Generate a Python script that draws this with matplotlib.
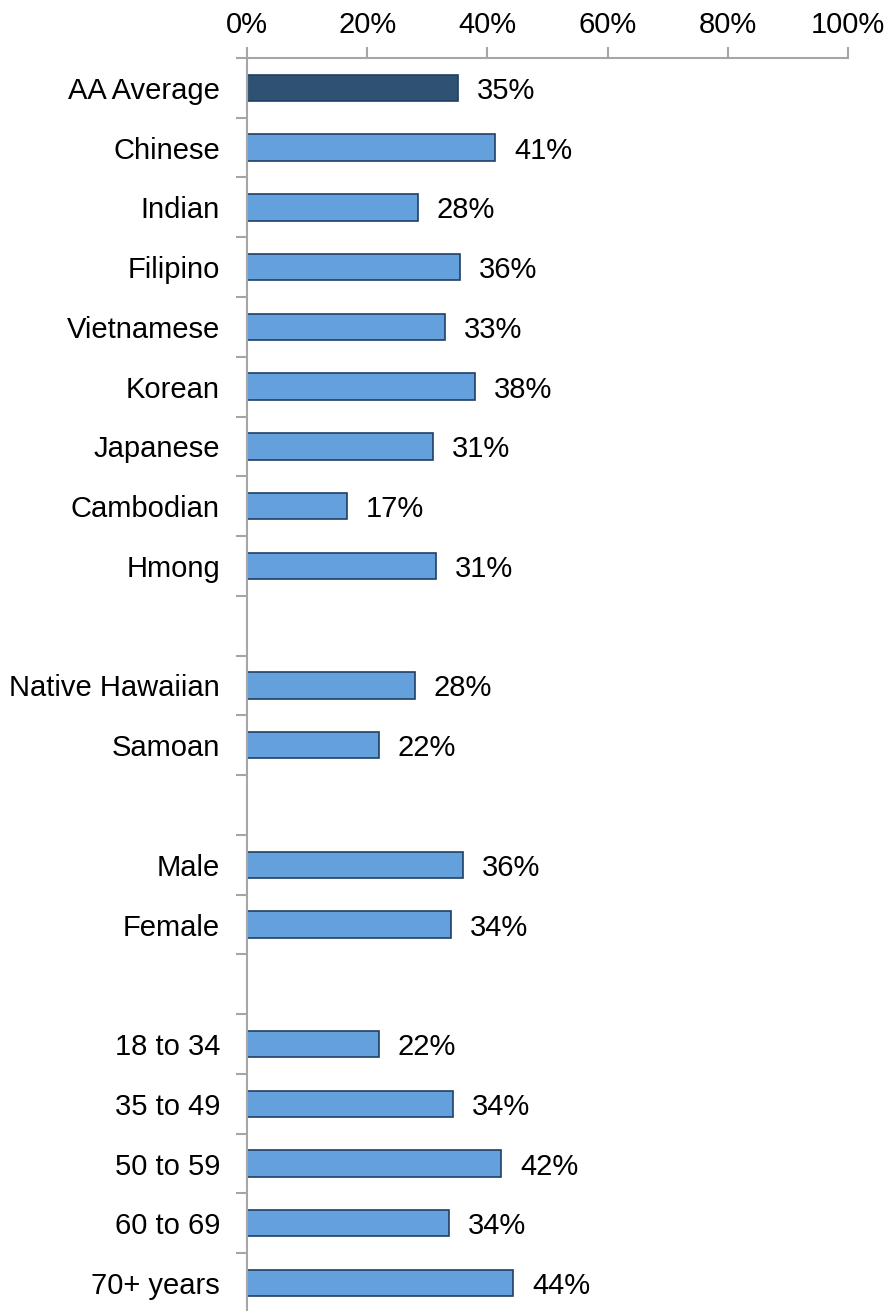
import numpy as np
import matplotlib.pyplot as plt
from matplotlib.ticker import FuncFormatter, MultipleLocator

plt.rcParams['font.family'] = ['Liberation Sans', 'DejaVu Sans']

# rows from top to bottom; empty label = blank spacer row
labels = ['AA Average', 'Chinese', 'Indian', 'Filipino', 'Vietnamese', 'Korean',
          'Japanese', 'Cambodian', 'Hmong', '',
          'Native Hawaiian', 'Samoan', '',
          'Male', 'Female', '',
          '18 to 34', '35 to 49', '50 to 59', '60 to 69', '70+ years']
values = [35.1, 41.3, 28.4, 35.5, 33.0, 37.9, 31.0, 16.6, 31.4, None,
          28.0, 22.0, None,
          36.0, 34.0, None,
          21.9, 34.3, 42.3, 33.6, 44.3]
xticks = [0, 20, 40, 60, 80, 100]

dark = '#2F5273'
light = '#64A0DC'
edge = '#1F3F66'
grey = '#A6A6A6'
fs = 21

fig = plt.figure(figsize=(8.88, 13.11), dpi=100)
ax = fig.add_axes([0.2782, -0.0015, 0.6768, 0.9573])

ypos = np.arange(len(labels))
for i, v in enumerate(values):
    if v is None:
        continue
    c = dark if i == 0 else light
    ax.barh(i, v, height=0.44, color=c, edgecolor=edge, linewidth=1.2)
    ax.text(v + 3.1, i, f'{round(v)}%', va='center_baseline', ha='left', fontsize=fs)

ax.set_xlim(0, 100)
ax.set_ylim(len(labels) - 0.5, -0.5)

ax.xaxis.tick_top()
ax.set_xticks(xticks)
ax.xaxis.set_major_formatter(FuncFormatter(lambda x, p: f'{x:.0f}%'))
ax.tick_params(axis='x', length=8, width=1.5, color=grey, labelsize=fs, pad=6)

ax.set_yticks(ypos)
ax.set_yticklabels(labels)
ax.yaxis.set_minor_locator(MultipleLocator(1, offset=0.5))
ax.tick_params(axis='y', which='major', length=0, labelsize=fs, pad=19.5)
ax.tick_params(axis='y', which='minor', length=8, width=1.5, color=grey)

for s in ['right', 'bottom']:
    ax.spines[s].set_visible(False)
for s in ['top', 'left']:
    ax.spines[s].set_color(grey)
    ax.spines[s].set_linewidth(1.5)

fig.savefig('out.png', dpi=100)
